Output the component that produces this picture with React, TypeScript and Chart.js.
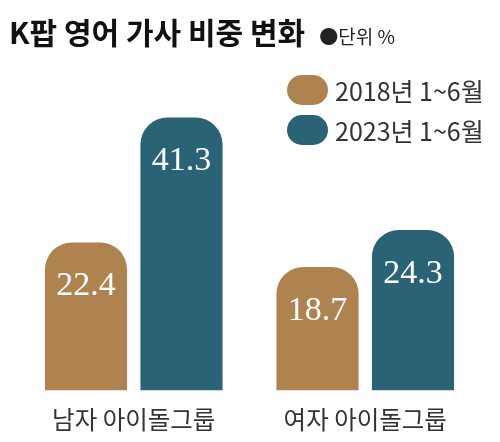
import { useEffect, useRef } from "react"
import { Chart, type ChartConfiguration, type Plugin, registerables } from "chart.js"

Chart.register(...registerables)

const categories = ["남자 아이돌그룹", "여자 아이돌그룹"]
const seriesNames = ["2018년 1~6월", "2023년 1~6월"]
const values2018 = [22.4, 18.7]
const values2023 = [41.3, 24.3]
const seriesColors = ["#AF834F", "#2A6375"]

const KR_FONT = "'Noto Sans CJK KR', 'Noto Sans', sans-serif"

// white value labels inside the top of each bar
const valueLabels: Plugin<"bar"> = {
  id: "valueLabels",
  afterDatasetsDraw(chart) {
    const ctx = chart.ctx
    ctx.save()
    ctx.fillStyle = "#ffffff"
    ctx.font = "34px 'Liberation Serif', serif"
    ctx.textAlign = "center"
    ctx.textBaseline = "middle"
    chart.data.datasets.forEach((ds, i) => {
      chart.getDatasetMeta(i).data.forEach((bar, j) => {
        const v = ds.data[j] as number
        ctx.fillText(v.toFixed(1), bar.x, bar.y + 44)
      })
    })
    ctx.restore()
  },
}

export default function App() {
  const chartRef = useRef<HTMLCanvasElement>(null)

  useEffect(() => {
    if (!chartRef.current) return
    const ctx = chartRef.current.getContext("2d")
    if (!ctx) return

    const config: ChartConfiguration<"bar"> = {
      type: "bar",
      data: {
        labels: categories,
        datasets: [
          {
            label: seriesNames[0],
            data: values2018,
            backgroundColor: seriesColors[0],
            borderRadius: 27,
            borderSkipped: "start",
            categoryPercentage: 0.825,
            barPercentage: 0.86,
          },
          {
            label: seriesNames[1],
            data: values2023,
            backgroundColor: seriesColors[1],
            borderRadius: 27,
            borderSkipped: "start",
            categoryPercentage: 0.825,
            barPercentage: 0.86,
          },
        ],
      },
      options: {
        responsive: true,
        maintainAspectRatio: false,
        animation: false,
        layout: { padding: { top: 93, left: 18, right: 19, bottom: -6 } },
        plugins: {
          legend: { display: false },
          tooltip: { enabled: false },
        },
        scales: {
          x: {
            grid: { display: false, drawTicks: false },
            border: { display: false },
            ticks: {
              color: "#333333",
              padding: 14,
              font: { family: KR_FONT, size: 24.5 },
            },
          },
          y: {
            display: false,
            min: 0,
            max: 45,
          },
        },
      },
      plugins: [valueLabels],
    }

    const chart = new Chart(ctx, config)
    return () => chart.destroy()
  }, [])

  return (
    <div
      style={{
        position: "absolute",
        left: 0,
        top: 0,
        width: 500,
        height: 442,
        background: "#ffffff",
        fontFamily: KR_FONT,
      }}
    >
      <div style={{ position: "absolute", left: 0, top: 0, width: 500, height: 442 }}>
        <canvas ref={chartRef} />
      </div>
      <div
        style={{
          position: "absolute",
          left: 9,
          top: 9,
          whiteSpace: "nowrap",
          display: "flex",
          alignItems: "baseline",
        }}
      >
        <span style={{ fontSize: 30, fontWeight: 700, color: "#111" }}>
          K팝 영어 가사 비중 변화
        </span>
        <span style={{ fontSize: 19, color: "#222", marginLeft: 14 }}>●단위 %</span>
      </div>
      {seriesNames.map((name, i) => (
        <div
          key={name}
          style={{
            position: "absolute",
            left: 287,
            top: 75 + i * 40,
            height: 30,
            display: "flex",
            alignItems: "center",
            whiteSpace: "nowrap",
          }}
        >
          <div
            style={{
              width: 41,
              height: 30,
              borderRadius: 15,
              background: seriesColors[i],
              marginRight: 7,
            }}
          />
          <span style={{ fontSize: 25, color: "#333" }}>{name}</span>
        </div>
      ))}
    </div>
  )
}
